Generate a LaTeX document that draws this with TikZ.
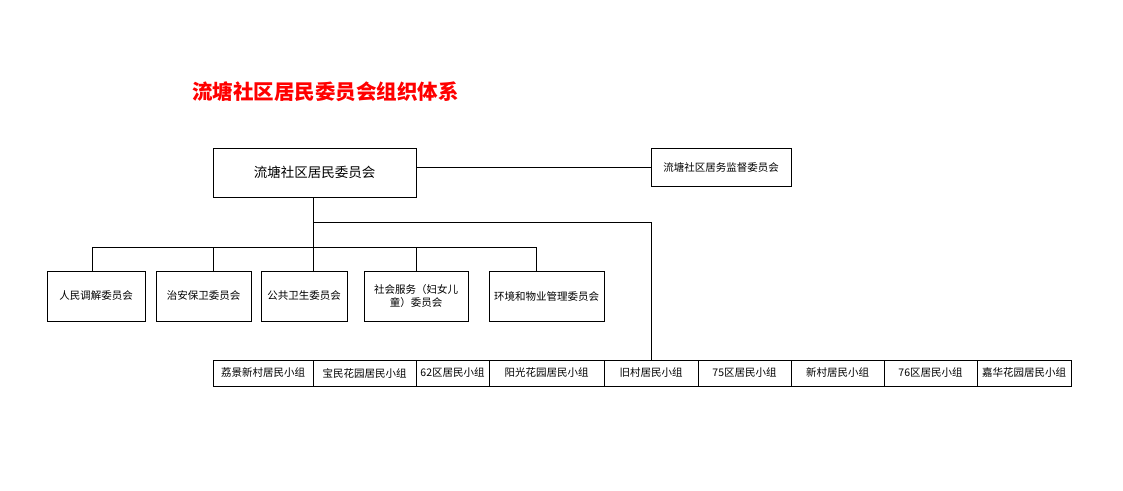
\documentclass[tikz,border=0pt]{standalone}
\usepackage{fontspec}
\setmainfont{Noto Sans CJK SC}
\begin{document}
\begin{tikzpicture}[x=1pt,y=-1pt,
  bx/.style={draw,line width=0.8pt,inner sep=1pt,font=\fontsize{10.5}{13}\selectfont,align=center},
  ln/.style={line width=0.8pt}]
\useasboundingbox (0,0) rectangle (1123,490);
\node[text=red,font=\fontsize{20.5}{24}\selectfont\bfseries] (title) at (325.5,92) {流塘社区居民委员会组织体系};
\node[bx,minimum width=203pt,minimum height=49pt,font=\fontsize{13.5}{16}\selectfont] (main) at (314.5,172.5) {流塘社区居民委员会};
\node[bx,minimum width=140pt,minimum height=38pt] (sup) at (721,167) {流塘社区居务监督委员会};
\node[bx,minimum width=98pt,minimum height=50pt] (c1) at (96,296) {人民调解委员会};
\node[bx,minimum width=95pt,minimum height=50pt] (c2) at (203.5,296) {治安保卫委员会};
\node[bx,minimum width=86pt,minimum height=50pt] (c3) at (304,296) {公共卫生委员会};
\node[bx,minimum width=104pt,minimum height=50pt] (c4) at (416,296) {社会服务（妇女儿\\童）委员会};
\node[bx,minimum width=115pt,minimum height=50pt] (c5) at (546.5,296) {环境和物业管理委员会};
\foreach \n/\a/\b/\t in {g1/213/313/荔景新村居民小组,g2/313/416/宝民花园居民小组,g3/416/489/62区居民小组,g4/489/604/阳光花园居民小组,g5/604/698/旧村居民小组,g6/698/791/75区居民小组,g7/791/884/新村居民小组,g8/884/977/76区居民小组,g9/977/1071/嘉华花园居民小组}{
  \node[bx,minimum width={\b-\a},minimum height=26pt,inner sep=0pt] (\n) at ({(\a+\b)/2},373) {\t};
}
\coordinate (j) at (313,247);
\coordinate (k) at (313,222);
\draw[ln] (main.east |- sup.west) -- (sup.west);
\draw[ln] (main.south -| j) -- (j);
\draw[ln] (92,247) -- (536,247);
\draw[ln] (92,247) -- (92,271);
\draw[ln] (213,247) -- (213,271);
\draw[ln] (j) -- (313,271);
\draw[ln] (416,247) -- (416,271);
\draw[ln] (536,247) -- (536,271);
\draw[ln] (k) -- (651,222) -- (g5.north);
\end{tikzpicture}
\end{document}
